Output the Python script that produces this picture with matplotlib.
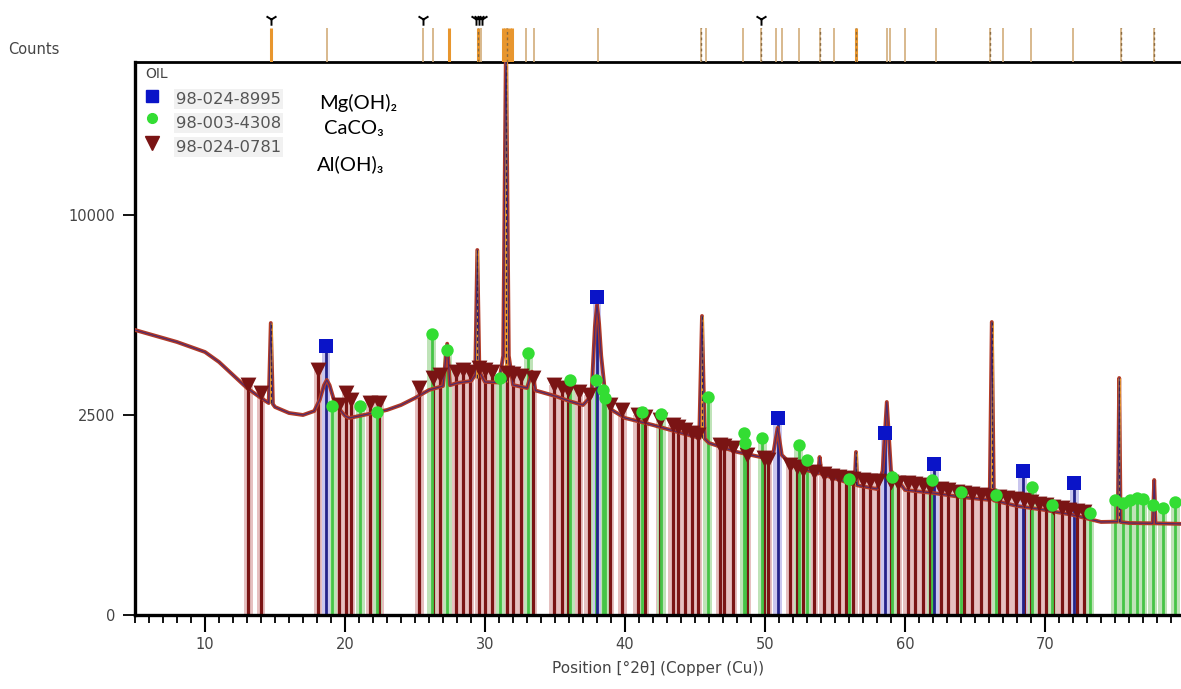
import numpy as np
import matplotlib
matplotlib.use("Agg")
import matplotlib.pyplot as plt
from matplotlib.ticker import MultipleLocator

# ---------------- data ----------------
pattern_x = [5, 6, 7, 8, 9, 10, 11, 12, 13, 14, 14.55, 14.7, 14.85, 15, 16, 17, 17.8,
             18.2, 18.5, 18.7, 18.9, 19.2, 19.6, 20.0, 20.3, 21, 22, 23, 24, 25, 26, 27,
             27.3, 27.5, 28, 29, 29.3, 29.45, 29.6, 30, 31, 31.3, 31.5, 31.7, 32, 33,
             33.35, 33.6, 34, 35, 36, 37, 37.6, 37.85, 38.0, 38.15, 38.3, 38.6, 39, 40,
             42, 44, 45.3, 45.5, 45.7, 46, 48, 50, 50.6, 50.9, 51.2, 52, 53.8, 53.9,
             54.05, 56.4, 56.5, 56.6, 58, 58.4, 58.7, 59.0, 60, 62, 64, 66.05, 66.2,
             66.35, 68, 70, 72, 74, 75.2, 75.3, 75.4, 76, 77.7, 77.8, 77.9, 80]
pattern_counts = [5077, 4935, 4796, 4658, 4489, 4323, 4001, 3600, 3221, 2943, 2809, 5329,
                  2780, 2704, 2550, 2500, 2600, 2900, 3300, 3452, 3300, 2900, 2650, 2480,
                  2426, 2475, 2550, 2627, 2756, 2943, 3164, 3278, 4600, 3300, 3364, 3422,
                  3600, 8327, 3700, 3393, 3380, 4200, 21000, 4200, 3306, 3221, 3700, 3150,
                  3108, 2998, 2862, 2756, 3000, 5200, 6006, 5300, 4200, 3000, 2640, 2426,
                  2256, 2070, 1960, 5588, 1940, 1849, 1661, 1541, 1650, 2186, 1600, 1388,
                  1250, 1560, 1240, 1060, 1661, 1050, 992, 1300, 2836, 1300, 977, 930, 870,
                  827, 5365, 820, 743, 689, 625, 541, 545, 3510, 540, 529, 525, 1139, 525,
                  518]

# sharp peaks highlighted by the software (orange)
spike_pos = [14.7, 29.45, 31.5, 45.5, 56.5, 66.2, 75.3]
spike_base = [2800, 3500, 3400, 1950, 1060, 825, 543]
spike_top = [5329, 8327, 21000, 5588, 1661, 5365, 3510]

# Al(OH)3  98-024-0781  (brown triangles)
aloh_pos = [13.1, 14.0, 18.1, 19.6, 20.1, 20.4, 21.8, 22.45, 25.3, 26.3, 26.8, 27.9, 28.4,
            28.9, 29.6, 30.0, 30.5, 31.6, 32.0, 32.6, 33.4, 34.9, 35.5, 35.9, 36.7, 37.4,
            38.9, 39.8, 40.9, 41.4, 42.5, 43.4, 43.8, 44.3, 44.8, 45.2, 46.8, 47.1, 47.7,
            48.7, 49.9, 50.2, 51.8, 52.3, 52.7, 53.5, 54.2, 54.8, 55.3, 55.8, 56.3, 57.0,
            57.5, 58.1, 59.0, 59.5, 60.2, 60.7, 61.3, 61.8, 62.6, 63.1, 63.7, 64.2, 64.8,
            65.4, 66.0, 66.7, 67.3, 67.9, 68.5, 69.0, 69.6, 70.1, 70.6, 71.2, 71.7, 72.3,
            72.8]
aloh_h = [3306, 3080, 3752, 2756, 3080, 2889, 2809, 2809, 3220, 3510, 3600, 3691, 3752,
          3691, 3813, 3752, 3691, 3660, 3630, 3570, 3510, 3306, 3220, 3164, 3108, 3025,
          2756, 2627, 2500, 2450, 2377, 2256, 2209, 2139, 2070, 2025, 1806, 1785, 1743,
          1600, 1541, 1501, 1406, 1369, 1314, 1278, 1243, 1208, 1190, 1173, 1156, 1139,
          1122, 1122, 1106, 1089, 1089, 1073, 1056, 1024, 992, 977, 945, 930, 915, 900,
          885, 870, 855, 841, 827, 798, 770, 756, 729, 716, 689, 676, 663]

# CaCO3  98-003-4308  (green circles)
caco3_pos = [19.1, 21.1, 22.3, 26.2, 27.3, 31.1, 33.1, 36.1, 37.9, 38.4, 38.6, 41.2, 42.6,
             45.9, 48.5, 48.6, 49.8, 52.4, 53.0, 56.0, 59.1, 61.9, 64.0, 66.5, 69.1, 70.5,
             73.2, 75.0, 75.6, 76.1, 76.6, 77.0, 77.7, 78.4, 79.3]
caco3_h = [2730, 2730, 2576, 4935, 4389, 3510, 4290, 3452, 3452, 3164, 2943, 2576, 2525,
           2970, 2070, 1849, 1958, 1806, 1501, 1150, 1190, 1139, 950, 900, 1020, 760,
           650, 827, 784, 830, 855, 840, 756, 716, 800]

# Mg(OH)2  98-024-8995  (blue squares)
mgoh_pos = [18.65, 38.0, 50.9, 58.6, 62.1, 68.4, 72.1]
mgoh_h = [4523, 6320, 2426, 2070, 1425, 1296, 1089]

# reference line positions in the top strip
strip_strong = [14.7, 27.4, 29.5, 31.3, 31.45, 31.6, 31.75, 31.9, 56.5]
strip_weak = [18.7, 25.6, 26.3, 29.7, 32.9, 33.5, 38.1, 45.4, 45.8, 48.4, 49.7, 50.75,
              51.2, 52.4, 53.9, 54.9, 58.7, 58.9, 60.0, 62.2, 66.1, 67.0, 69.0, 72.0,
              75.4, 77.8]
strip_dashed = [29.5, 31.6, 45.4, 49.7, 53.9, 56.5, 66.1, 75.4, 77.8]
strip_marks = [14.7, 25.6, 29.35, 29.55, 29.75, 49.7]

x_ticks = [10, 20, 30, 40, 50, 60, 70]
y_ticks = [0, 2500, 10000]
y_tick_labels = ["0", "2500", "10000"]

# ---------------- figure ----------------
W, H = 1181, 689
fig = plt.figure(figsize=(W / 100, H / 100), dpi=100)
L = 135 / W
B = (H - 615) / H
T = (H - 62) / H
ax = fig.add_axes([L, B, 1 - L, T - B])
ax.set_yscale("function", functions=(lambda v: np.sqrt(np.clip(v, 0, None)),
                                     lambda v: np.asarray(v) ** 2))
xmin, xmax = 5, 5 + (W - 135) / 14
ax.set_xlim(xmin, xmax)
ax.set_ylim(0, ((615 - 62) / 4) ** 2)

# stick patterns: pale bands + dark lines
def sticks(pos, h, band, line, z, lw):
    ax.bar(pos, h, width=0.62, color=band, linewidth=0, zorder=z)
    ax.vlines(pos, 0, h, color=line, lw=lw, zorder=z + 0.5)

sticks(aloh_pos, aloh_h, "#e6c0c0", "#7a1414", 1, 2.3)
sticks(caco3_pos, caco3_h, "#bfe3b8", "#46c446", 1.2, 2.0)
sticks(mgoh_pos, mgoh_h, "#c9c6ee", "#23238a", 1.4, 2.0)

# pattern
ax.plot(pattern_x, pattern_counts, color="#b23a26", lw=2.8, zorder=3, solid_joinstyle="round")
ax.plot(pattern_x, pattern_counts, color="#4a2a70", lw=0.8, zorder=3.2)
ax.vlines(spike_pos, spike_base, spike_top, color="#e8962e", lw=2.2, zorder=3.1)
ax.vlines(spike_pos, spike_base, spike_top, color="#3a2050", lw=0.9, zorder=3.3,
          linestyles=(0, (3, 2)))

# markers
ax.scatter(aloh_pos, aloh_h, marker="v", s=130, color="#7a1414", zorder=4, linewidths=0)
ax.scatter(caco3_pos, caco3_h, marker="o", s=80, color="#33dd33", zorder=4.1, linewidths=0)
ax.scatter(mgoh_pos, mgoh_h, marker="s", s=115, color="#0a14c8", zorder=4.2, linewidths=0)

# axes styling
ax.spines["right"].set_visible(False)
ax.spines["left"].set_linewidth(2.4)
ax.spines["bottom"].set_linewidth(2.4)
ax.spines["top"].set_linewidth(2.0)
ax.set_xticks(x_ticks)
ax.set_yticks(y_ticks)
ax.set_yticklabels(y_tick_labels)
ax.xaxis.set_minor_locator(MultipleLocator(1))
ax.yaxis.set_minor_locator(plt.NullLocator())
ax.tick_params(axis="x", which="major", direction="out", length=12, width=1.5,
               labelsize=10.5, labelcolor="#444444", pad=4)
ax.tick_params(axis="x", which="minor", direction="out", length=6, width=1.3)
ax.tick_params(axis="y", which="major", direction="out", length=9, width=1.3,
               labelsize=10.5, labelcolor="#444444", pad=5)
ax.set_xlabel("Position [°2θ] (Copper (Cu))", fontsize=11, color="#444444", labelpad=6)

# top strip with reference lines
ax2 = fig.add_axes([L, T, 1 - L, 1 - T])
ax2.set_xlim(xmin, xmax)
ax2.set_ylim(0, 62)
ax2.axis("off")
ax2.vlines(strip_weak, 0, 34, color="#d2ad7a", lw=1.2)
ax2.vlines(strip_strong, 0, 34, color="#e8962e", lw=2.2)
ax2.vlines(strip_dashed, 0, 34, color="#8a6a40", lw=1.0, linestyles=(0, (2, 2)))
ax2.scatter(strip_marks, [43] * len(strip_marks), marker="1", s=80, color="black", lw=1.4)

# "Counts" label
fig.text(8 / W, 1 - 50 / H, "Counts", fontsize=10.5, color="#444444", va="center", ha="left")

# legend block
def fx(p):
    return p / W

def fy(p):
    return 1 - p / H

fig.text(fx(145), fy(74), "OIL", fontsize=10, color="#444444", va="center")
codes = ["98-024-8995", "98-003-4308", "98-024-0781"]
rows = [99, 123, 147]
for c, r in zip(codes, rows):
    fig.text(fx(176), fy(r), c, fontsize=11.8, color="#555555", va="center",
             bbox=dict(facecolor="#f1f1f1", edgecolor="none", pad=1.5))
fig.lines.append(plt.Line2D([fx(152)], [fy(96)], marker="s", ms=9, color="#0a14c8",
                            transform=fig.transFigure, ls="none"))
fig.lines.append(plt.Line2D([fx(152)], [fy(118)], marker="o", ms=7, color="#33dd33",
                            transform=fig.transFigure, ls="none"))
fig.lines.append(plt.Line2D([fx(152)], [fy(143)], marker="v", ms=10, color="#7a1414",
                            transform=fig.transFigure, ls="none"))
fam = ["Lato", "DejaVu Sans"]
fig.text(fx(319), fy(103), "Mg(OH)₂", fontsize=14.5, family=fam, va="center")
fig.text(fx(324), fy(129), "CaCO₃", fontsize=14.5, family=fam, va="center")
fig.text(fx(317), fy(164), "Al(OH)₃", fontsize=14.5, family=fam, va="center")

fig.savefig("out.png", dpi=100)
